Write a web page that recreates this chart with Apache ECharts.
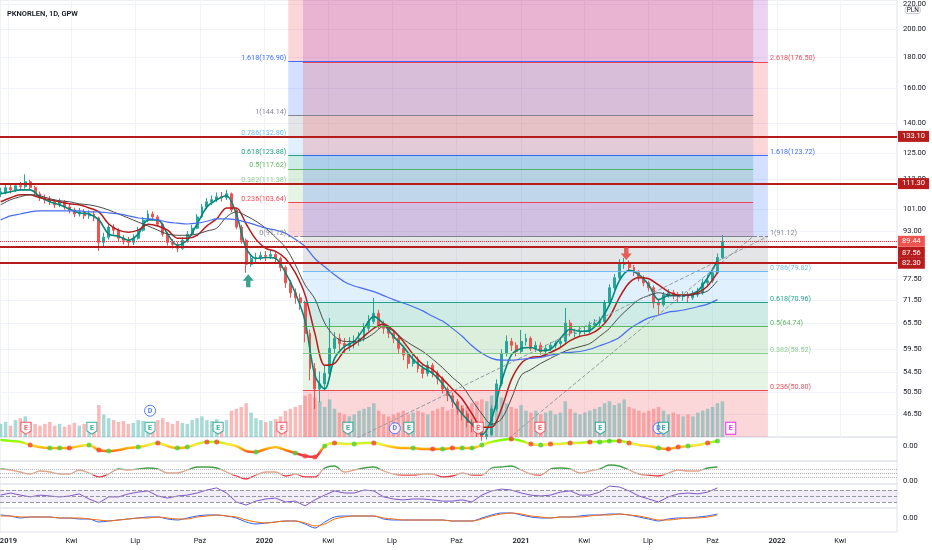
<!DOCTYPE html>
<html>
<head>
<meta charset="utf-8">
<script src="https://cdn.jsdelivr.net/npm/echarts@6/dist/echarts.min.js"></script>
<style>
  html, body { margin: 0; padding: 0; background: #fff; }
  #chart { width: 932px; height: 550px; }
</style>
</head>
<body>
<div id="chart"></div>
<script>
// weekly bars (Fridays), [open, close, low, high]
var firstWeek = '2018-12-21';
var candles = [
  [107.0,107.9,105.8,109.5],[107.9,109.6,106.9,110.8],[109.6,108.7,107.2,111.0],[108.7,110.4,107.8,111.6],
  [110.4,110.0,108.6,112.0],[110.0,112.1,109.2,115.3],[112.1,109.6,108.5,113.0],[109.6,107.1,106.0,110.4],
  [107.1,105.5,104.2,108.0],[105.5,104.7,103.2,106.8],[104.7,103.9,102.6,106.2],[103.9,102.7,101.4,105.0],
  [102.7,103.9,101.8,105.2],[103.9,101.9,100.8,104.6],[101.9,100.7,99.4,103.0],[100.7,99.2,98.0,101.6],
  [99.2,100.0,98.2,101.5],[100.0,98.5,97.3,101.0],[98.5,99.2,97.4,100.6],[99.2,97.7,96.5,100.4],
  [97.7,89.1,86.2,98.2],[89.1,90.8,87.8,92.4],[90.8,94.4,90.0,95.8],[94.4,93.3,91.8,95.4],
  [93.3,90.5,89.4,94.0],[90.5,89.8,88.4,91.6],[89.8,89.1,87.6,91.0],[89.1,90.5,88.2,91.8],
  [90.5,93.3,90.0,94.5],[93.3,96.9,92.8,98.0],[96.9,99.2,96.2,100.6],[99.2,98.1,96.8,100.2],
  [98.1,95.4,94.6,98.8],[95.4,91.9,91.0,96.0],[91.9,89.1,88.0,92.6],[89.1,88.4,87.0,90.2],
  [88.4,87.1,85.8,89.2],[87.1,89.8,86.6,90.8],[89.8,91.9,89.0,93.0],[91.9,94.0,91.2,95.2],
  [94.0,98.1,93.6,99.2],[98.1,101.9,97.6,103.0],[101.9,103.9,101.0,105.4],[103.9,104.7,102.6,106.4],
  [104.7,105.9,103.8,107.6],[105.9,105.5,104.0,107.8],[105.5,107.1,104.6,108.7],[107.1,100.7,99.8,107.6],
  [100.7,94.4,93.6,101.4],[94.4,89.8,88.6,95.2],[89.8,82.0,79.4,90.4],[82.0,83.8,81.2,85.0],
  [83.8,84.1,82.6,85.6],[84.1,84.8,83.2,86.0],[84.8,84.5,83.0,86.2],[84.5,85.1,83.6,86.4],
  [85.1,83.8,82.4,86.0],[83.8,81.0,79.8,84.4],[81.0,76.4,75.0,81.6],[76.4,73.6,72.2,77.2],
  [73.6,72.2,70.6,74.8],[72.2,70.8,69.0,73.4],[70.8,63.1,61.0,71.4],[63.1,55.2,52.8,64.0],
  [55.2,51.1,47.4,56.4],[51.1,52.1,48.6,54.6],[52.1,54.2,50.8,56.0],[54.2,59.6,53.6,66.9],
  [59.6,61.9,58.4,63.4],[61.9,60.7,59.2,63.0],[60.7,60.1,58.6,62.0],[60.1,60.7,59.0,62.2],
  [60.7,61.2,59.6,62.6],[61.2,61.9,60.2,63.4],[61.9,64.3,61.2,65.6],[64.3,66.0,63.6,67.6],
  [66.0,68.1,65.4,72.2],[68.1,65.1,64.2,69.0],[65.1,64.3,63.0,66.2],[64.3,63.1,62.0,65.0],
  [63.1,61.9,60.8,63.8],[61.9,59.6,58.6,62.4],[59.6,58.1,57.0,60.2],[58.1,56.3,55.2,58.8],
  [56.3,57.2,55.6,58.4],[57.2,55.2,54.4,57.8],[55.2,54.2,53.2,56.0],[54.2,55.9,53.6,56.8],
  [55.9,54.2,53.4,56.4],[54.2,53.1,52.0,54.8],[53.1,51.1,50.2,53.6],[51.1,49.8,48.8,51.6],
  [49.8,48.7,47.6,50.4],[48.7,47.4,46.4,49.2],[47.4,46.5,45.4,48.0],[46.5,45.0,44.2,47.0],
  [45.0,44.3,43.4,45.6],[44.3,43.3,42.6,44.8],[43.3,42.7,42.0,43.8],[42.7,43.0,42.2,44.0],
  [43.0,47.4,42.8,48.0],[47.4,52.1,47.0,53.0],[52.1,58.5,51.6,59.4],[58.5,61.2,57.8,62.6],
  [61.2,60.3,59.0,62.0],[60.3,58.9,57.8,61.0],[58.9,61.2,58.4,63.9],[61.2,61.9,60.2,63.0],
  [61.9,59.6,59.0,62.4],[59.6,60.3,58.8,61.2],[60.3,58.9,58.2,61.0],[58.9,59.6,58.2,60.4],
  [59.6,60.3,59.0,61.0],[60.3,60.7,59.6,61.4],[60.7,61.2,60.0,62.0],[61.2,65.6,60.8,69.5],
  [65.6,63.1,62.4,66.4],[63.1,63.1,62.2,64.2],[63.1,63.6,62.4,64.6],[63.6,63.6,62.8,64.8],
  [63.6,65.1,63.0,66.0],[65.1,65.6,64.4,66.6],[65.6,66.0,64.8,67.2],[66.0,70.8,65.6,71.6],
  [70.8,75.0,70.2,76.0],[75.0,77.9,74.4,79.0],[77.9,82.0,77.4,83.6],[82.0,82.0,80.6,84.0],
  [82.0,81.0,79.8,83.2],[81.0,79.4,78.4,81.8],[79.4,77.9,76.8,80.2],[77.9,76.4,75.4,78.6],
  [76.4,75.0,74.0,77.0],[75.0,70.8,69.4,75.6],[70.8,70.3,67.5,71.6],[70.3,73.0,69.8,73.8],
  [73.0,73.6,72.2,74.6],[73.6,73.0,71.8,74.4],[73.0,72.5,71.0,73.8],[72.5,73.0,71.4,74.0],
  [73.0,72.2,70.8,73.8],[72.2,73.0,71.6,74.2],[73.0,73.6,72.4,75.0],[73.6,76.4,73.0,77.6],
  [76.4,77.0,75.2,78.8],[77.0,79.4,76.4,80.6],[79.4,84.1,79.0,85.4],[84.1,89.4,83.6,91.6]
];
var volumes = [
  14,16,12,18,20,22,16,14,12,14,16,12,14,11,13,15,12,14,13,12,
  34,24,20,18,16,17,14,15,18,17,16,14,18,20,16,14,17,15,14,18,
  20,22,18,17,19,16,18,28,30,32,36,26,20,18,16,17,19,22,28,30,
  32,34,44,46,42,38,32,40,30,26,24,22,24,28,30,32,36,28,24,22,
  24,26,28,24,26,28,26,24,28,30,32,28,30,32,34,32,36,38,40,38,
  44,46,42,36,32,30,34,28,26,28,24,26,28,24,26,38,30,26,24,26,
  28,30,32,36,38,34,36,40,32,30,28,26,28,30,32,28,24,26,24,22,
  24,22,26,28,30,32,36,38
];

// moving averages, read every second week
var emaFast = [107.1,107.9,108.7,108.7,105.9,103.9,102.7,101.1,99.6,99.2,
  97.0,91.9,91.2,89.8,91.9,97.0,97.0,91.9,88.1,89.8,
  95.5,101.9,104.7,106.3,99.2,87.1,83.8,84.1,83.8,79.4,
  73.6,66.1,53.8,51.1,57.4,60.0,61.2,64.3,67.3,65.4,
  62.4,60.0,57.2,55.4,54.2,52.1,49.0,46.5,44.7,43.0,
  45.6,52.5,58.1,59.6,59.8,59.1,59.4,61.9,64.1,63.6,
  63.8,66.1,70.3,77.0,80.1,78.8,75.8,71.7,72.8,72.8,
  73.0,74.1,77.9,83.1];
var emaMid = [103.9,105.5,106.7,106.7,105.5,104.7,103.9,103.1,102.7,101.5,
  100.0,95.5,93.3,92.6,93.3,95.4,94.8,93.3,90.5,90.5,
  91.5,94.8,97.4,101.5,101.5,95.5,90.1,87.1,86.1,83.8,
  79.4,73.0,63.1,55.9,56.3,59.1,60.5,62.4,64.3,65.4,
  63.8,61.2,58.3,56.1,55.0,53.1,51.1,49.2,46.5,44.2,
  44.2,47.4,52.9,56.3,57.6,57.8,58.7,59.8,61.4,62.4,
  62.9,64.3,67.1,72.2,76.4,77.9,77.6,75.8,73.9,73.0,
  73.0,73.6,75.5,79.4];
var emaSlow = [102.7,104.7,105.9,106.7,106.3,105.1,104.3,103.9,103.1,102.7,
  101.9,100.7,99.2,97.7,96.2,94.8,93.3,91.9,91.5,91.5,
  91.9,93.0,94.0,98.1,100.0,98.5,96.5,94.0,90.8,87.4,
  81.9,75.8,71.9,65.6,62.4,61.2,61.2,61.7,63.1,64.8,
  63.6,61.7,60.2,58.9,57.2,55.4,53.4,51.7,49.0,46.5,
  44.7,45.6,49.2,53.8,55.0,56.3,57.4,58.5,59.4,60.0,
  60.7,62.4,64.3,67.1,69.5,71.7,72.8,73.6,73.0,72.8,
  72.8,73.3,74.1,77.0];
var sma200 = [97.0,98.5,99.2,100.0,100.4,100.4,100.4,100.4,100.4,100.0,
  100.0,99.6,99.2,98.5,97.7,97.4,97.0,96.2,95.8,95.5,
  95.8,96.5,97.4,97.4,97.0,96.2,95.1,94.0,93.3,92.2,
  90.1,87.7,83.8,81.2,78.8,76.7,75.5,74.7,73.9,72.8,
  71.7,70.8,69.8,68.7,67.3,66.1,64.3,62.4,60.2,58.5,
  57.4,57.0,57.0,57.2,57.4,57.6,58.1,58.5,58.7,58.9,
  59.4,60.2,61.0,62.1,64.1,65.6,66.9,67.6,68.4,68.7,
  69.2,69.8,70.5,71.7];

// lower panes, every second week
var wave = [6,5,4,1,-1,-2,-2,-2,0,1,
  -4,-5,-4,-2,-1,1,3,0,-2,-1,
  2,4,4,2,0,-5,-6,-3,-1,-4,
  -7,-10,-11,0,3,2,2,3,3,1,
  -1,-2,-2,-3,-3,-3,-2,-2,-2,1,
  4,6,7,5,2,1,2,2,3,3,
  4,4,5,5,3,1,0,-2,-3,-1,
  0,1,3,5];
var waveRedDots = [3,7,10,16,21,22,31,32,34,38,44,46,52,54,56,58,60,63,64,68,69,72];
var waveGreenDots = [5,6,9,11,14,18,19,26,30,33,36,42,45,47,48,49,55,61,62,67,70,73];
var trendOsc = [12,11,9,7,10,9,7,7,11,8,
  4,7,12,11,12,13,12,8,8,11,
  14,14,13,9,5,2,6,9,9,5,
  7,4,4,13,15,9,11,13,14,10,
  7,6,6,7,7,4,5,8,6,6,
  13,14,15,11,7,6,12,13,12,8,
  10,12,16,15,11,7,6,5,8,11,
  10,10,13,14];
var trendOscLevels = [12, 8, 4];
var rsi = [53,60,53,47,53,50,47,50,57,40,
  27,47,47,57,63,67,50,43,50,53,
  60,70,77,60,30,20,33,40,43,30,
  33,17,37,53,67,60,60,70,67,47,
  40,37,40,40,37,33,33,37,30,53,
  67,73,70,60,53,50,53,63,67,53,
  53,63,83,80,67,50,40,30,47,57,
  60,57,63,77];
var rsiLevels = [70, 50, 30];
var macd = [3,2,0,1,1,1,0,0,-1,-1,
  -4,-3,-2,-1,0,1,1,-1,-2,0,
  2,3,3,2,0,-4,-6,-5,-4,-3,
  -3,-6,-10,-4,1,2,2,2,2,-1,
  -2,-2,-2,-2,-2,-2,-3,-3,-3,0,
  3,5,5,3,1,0,0,1,1,2,
  3,3,4,4,3,1,-1,-3,-1,0,
  0,1,2,4];
var signal = [2,2,1,1,1,1,0,0,0,-1,
  -2,-3,-2,-1,0,0,1,0,-1,-1,
  1,2,3,2,1,-2,-4,-5,-4,-3,
  -3,-5,-8,-6,-1,1,2,2,2,0,
  -1,-2,-2,-2,-2,-2,-3,-3,-3,-1,
  2,4,5,4,2,1,0,1,1,1,
  2,3,3,4,3,2,0,-2,-2,-1,
  0,0,1,3];

var priceTicks = [220, 200, 180, 160, 140, 125, 113, 101, 93, 77.5, 71.5, 65.5, 59.5, 54.5, 50.5, 46.5, 42];
var quarterTicks = ['2019-01-01','2019-04-01','2019-07-01','2019-10-01','2020-01-01','2020-04-01','2020-07-01',
  '2020-10-01','2021-01-01','2021-04-01','2021-07-01','2021-10-01','2022-01-01','2022-04-01'];
var monthNames = { 3: 'Kwi', 6: 'Lip', 9: 'Paź' };

var keyLevels = [133.10, 111.30, 87.56, 82.30];
var lastPrice = 89.44;

var fibLeftLevels = ['0','0.236','0.382','0.5','0.618','0.786','1','1.618','2.618'];
var fibLeftPrices = [91.12, 103.64, 111.38, 117.62, 123.88, 132.80, 144.14, 176.90, 229.90];
var fibLeftSpan = ['2020-02-04', '2021-11-28'];
var fibRightLevels = ['0','0.236','0.382','0.5','0.618','0.786','1','1.618','2.618','3.618'];
var fibRightPrices = [38.36, 50.80, 58.52, 64.74, 70.96, 79.82, 91.12, 123.72, 176.50, 229.30];
var fibRightSpan = ['2020-02-25', '2021-12-19'];

var trendLineA = [['2020-02-25', 38.36], ['2021-12-19', 91.12]];
var trendLineB = [['2020-11-04', 38.8], ['2021-11-28', 91.12]];

var events = [
  ['2019-01-26','E','miss',0], ['2019-04-30','E','beat',0], ['2019-07-22','E','beat',0], ['2019-07-22','D','div',1],
  ['2019-10-27','E','beat',0], ['2020-01-26','E','miss',0], ['2020-04-29','E','beat',0], ['2020-07-05','D','div',0],
  ['2020-07-25','E','beat',0], ['2020-11-01','E','miss',0], ['2021-01-28','E','miss',0], ['2021-04-24','E','beat',0],
  ['2021-07-16','D','div',0], ['2021-07-23','E','beat',0], ['2021-10-27','E','next',0]
];
var arrows = [['2019-12-09', 77.0, 'up'], ['2021-05-31', 85.4, 'down']];

var FONT = 'Roboto, "Noto Sans", sans-serif';
var UP = '#26a69a', DOWN = '#ef5350';
var fibColor = { '0': '#787b86', '0.236': '#f23645', '0.382': '#81c784', '0.5': '#4caf50', '0.618': '#089981',
  '0.786': '#64b5f6', '1': '#787b86', '1.618': '#2962ff', '2.618': '#f23645', '3.618': '#9c27b0' };
var eventColor = { miss: '#f23645', beat: '#089981', div: '#2962ff', next: '#d500f9' };
var yMin = 42.6, yMax = 223.2;

function ts(s) { return Date.parse(s + 'T00:00:00Z'); }
var xMin = ts('2018-12-20'), xMax = ts('2022-06-21');

function rgba(hex, a) {
  var n = parseInt(hex.slice(1), 16);
  return 'rgba(' + (n >> 16) + ',' + ((n >> 8) & 255) + ',' + (n & 255) + ',' + a + ')';
}

var weeks = [];
for (var i = 0; i < candles.length; i++) weeks.push(ts(firstWeek) + 7 * 86400000 * i);
var halfWeeks = weeks.filter(function (w, i) { return i % 2 === 0; });
function pairs(vals) { return vals.map(function (v, i) { return [halfWeeks[i], v]; }); }

function fibMarks(levels, prices, span, side, dashedLevel) {
  var areas = [], lines = [];
  for (var k = 0; k + 1 < levels.length; k++) {
    areas.push([
      { xAxis: ts(span[0]), yAxis: prices[k], itemStyle: { color: rgba(fibColor[levels[k + 1]], 0.2) } },
      { xAxis: ts(span[1]), yAxis: prices[k + 1] }
    ]);
  }
  for (var k = 0; k < levels.length; k++) {
    if (prices[k] < yMin || prices[k] > yMax) continue;
    var c = fibColor[levels[k]];
    lines.push([
      { xAxis: ts(span[0]), yAxis: prices[k],
        lineStyle: { color: c, width: 1, type: levels[k] === dashedLevel ? 'dashed' : 'solid', opacity: 0.9 },
        label: { show: true, position: side, distance: 2, verticalAlign: 'bottom', color: c,
          fontSize: 7.2, fontFamily: FONT, formatter: levels[k] + '(' + prices[k].toFixed(2) + ')' } },
      { xAxis: ts(span[1]), yAxis: prices[k] }
    ]);
  }
  return { areas: areas, lines: lines };
}
var fibL = fibMarks(fibLeftLevels, fibLeftPrices, fibLeftSpan, 'start', '0');
var fibR = fibMarks(fibRightLevels, fibRightPrices, fibRightSpan, 'end', '1');

// price badges: 87.56 hangs below its line so it does not cover 89.44
function badge(v, bg, vAlign) {
  return { show: true, position: 'end', distance: 1, formatter: v.toFixed(2), color: '#fff',
    backgroundColor: bg, padding: [2, 4, 1, 4], fontSize: 7.5, fontFamily: FONT, verticalAlign: vAlign };
}
var levelLines = keyLevels.map(function (v) {
  return { yAxis: v, lineStyle: { color: '#b71c1c', width: 2, type: 'solid' },
    label: badge(v, '#b71c1c', v === 87.56 ? 'top' : 'middle') };
});
levelLines.push({ yAxis: lastPrice, lineStyle: { color: '#f23645', width: 1, type: 'dotted' },
  label: badge(lastPrice, '#ef5350', 'middle') });

var shield = 'path://M0,0 L10,0 L10,8 L5,11 L0,8 Z';
var eventData = events.map(function (e) {
  var c = eventColor[e[2]];
  return {
    value: [ts(e[0]), e[3]],
    symbol: e[2] === 'div' ? 'circle' : (e[2] === 'next' ? 'rect' : shield),
    symbolSize: e[2] === 'div' ? 11 : [10, 12],
    itemStyle: { color: '#fff', borderColor: c, borderWidth: 1 },
    label: { show: true, position: 'inside', formatter: e[1], color: c, fontSize: 7, fontWeight: 'bold', fontFamily: FONT }
  };
});
var arrowData = arrows.map(function (a) {
  return {
    value: [ts(a[0]), a[1]],
    symbol: a[2] === 'up' ? 'path://M5,0 L10,6 L7,6 L7,12 L3,12 L3,6 L0,6 Z' : 'path://M3,0 L7,0 L7,6 L10,6 L5,12 L0,6 L3,6 Z',
    symbolSize: [11, 13],
    itemStyle: { color: a[2] === 'up' ? '#0b8a70' : '#e53935' }
  };
});

var paneTops = [0, 390, 402, 437, 461, 484, 508];
var paneHeights = [437, 47, 35, 24, 23, 24, 24];
var grids = paneTops.map(function (t, i) {
  var bordered = i === 0 || i >= 3;
  return { left: 0, right: 35, top: t, height: paneHeights[i], show: bordered,
    borderColor: '#e0e3eb', borderWidth: 1, backgroundColor: 'transparent', outerBoundsMode: 'none' };
});

var quarterValues = quarterTicks.map(ts);
var xAxes = grids.map(function (g, i) {
  var last = i === grids.length - 1;
  return {
    type: 'value', gridIndex: i, min: xMin, max: xMax,
    axisLine: { show: false },
    axisTick: { show: false, customValues: quarterValues },
    splitLine: { show: i === 0, lineStyle: { color: '#f0f3fa', width: 1 } },
    axisLabel: {
      show: last, customValues: quarterValues, margin: 5, fontSize: 7.5, fontFamily: FONT, color: '#131722',
      formatter: function (v) {
        var dt = new Date(v);
        return dt.getUTCMonth() === 0 ? '{y|' + dt.getUTCFullYear() + '}' : monthNames[dt.getUTCMonth()];
      },
      rich: { y: { fontSize: 7.5, fontWeight: 600, fontFamily: FONT, color: '#131722' } }
    }
  };
});

var zeroLabel = { customValues: [0], formatter: function (v) { return Number(v).toFixed(2); },
  fontSize: 7.5, fontFamily: FONT, color: '#131722', margin: 6 };
var yAxes = [
  { type: 'log', gridIndex: 0, position: 'right', min: yMin, max: yMax, logBase: 10,
    axisLine: { show: false }, axisTick: { show: false, customValues: priceTicks },
    splitLine: { show: true, lineStyle: { color: '#f0f3fa', width: 1 } },
    axisLabel: { customValues: priceTicks, formatter: function (v) { return Number(v).toFixed(2); },
      fontSize: 7.5, fontFamily: FONT, color: '#131722', margin: 6 } },
  { type: 'value', gridIndex: 1, min: 0, max: 50, show: false },
  { type: 'value', gridIndex: 2, min: -0.5, max: 1.5, show: false },
  { type: 'value', gridIndex: 3, position: 'right', min: -15, max: 9, axisLine: { show: false },
    axisTick: { show: false }, splitLine: { show: false }, axisLabel: zeroLabel },
  { type: 'value', gridIndex: 4, position: 'right', min: -3, max: 20, axisLine: { show: false },
    axisTick: { show: false }, splitLine: { show: false }, axisLabel: zeroLabel },
  { type: 'value', gridIndex: 5, position: 'right', min: 10, max: 90, axisLine: { show: false },
    axisTick: { show: false }, splitLine: { show: false }, axisLabel: { show: false } },
  { type: 'value', gridIndex: 6, position: 'right', min: -14, max: 10, axisLine: { show: false },
    axisTick: { show: false }, splitLine: { show: false }, axisLabel: zeroLabel }
];

function maLine(name, vals, color, width) {
  return { name: name, type: 'line', xAxisIndex: 0, yAxisIndex: 0, data: pairs(vals), smooth: 0.3,
    symbol: 'none', lineStyle: { color: color, width: width }, z: 4 };
}
function dots(idx, color) {
  return { type: 'scatter', xAxisIndex: 3, yAxisIndex: 3, symbolSize: 5, z: 5,
    itemStyle: { color: color },
    data: idx.map(function (j) { return [halfWeeks[j], wave[j]]; }) };
}

var series = [
  { name: 'fib', type: 'line', xAxisIndex: 0, yAxisIndex: 0, data: [], silent: true,
    markArea: { silent: true, data: fibL.areas.concat(fibR.areas) },
    markLine: { silent: true, symbol: 'none', data: fibL.lines.concat(fibR.lines) } },
  { name: 'volume', type: 'bar', xAxisIndex: 1, yAxisIndex: 1, barWidth: 3.5, z: 2,
    data: weeks.map(function (w, i) { return [w, volumes[i]]; }),
    itemStyle: { color: function (p) {
      var c = candles[p.dataIndex];
      return c[1] >= c[0] ? 'rgba(38,166,154,0.4)' : 'rgba(239,83,80,0.4)';
    } } },
  { name: 'PKNORLEN', type: 'candlestick', xAxisIndex: 0, yAxisIndex: 0, barWidth: 2.4, z: 3,
    data: weeks.map(function (w, i) { return [w].concat(candles[i]); }),
    encode: { x: 0, y: [1, 2, 3, 4] },
    itemStyle: { color: UP, color0: DOWN, borderColor: UP, borderColor0: DOWN, borderWidth: 1 },
    markLine: { silent: true, symbol: 'none', data: levelLines } },
  maLine('EMA fast', emaFast, '#00897b', 1.6),
  maLine('EMA mid', emaMid, '#b71c1c', 1.5),
  maLine('EMA slow', emaSlow, '#4a4a4a', 1),
  maLine('SMA 200', sma200, '#4a6cf0', 1.2),
  { type: 'line', xAxisIndex: 0, yAxisIndex: 0, data: trendLineA.map(function (p) { return [ts(p[0]), p[1]]; }),
    symbol: 'none', z: 4, lineStyle: { color: '#9598a1', width: 1, type: 'dashed' } },
  { type: 'line', xAxisIndex: 0, yAxisIndex: 0, data: trendLineB.map(function (p) { return [ts(p[0]), p[1]]; }),
    symbol: 'none', z: 4, lineStyle: { color: '#9598a1', width: 1, type: 'dashed' } },
  { type: 'scatter', xAxisIndex: 0, yAxisIndex: 0, data: arrowData, z: 6 },
  { type: 'scatter', xAxisIndex: 2, yAxisIndex: 2, data: eventData, z: 6 },
  { name: 'wave', type: 'line', xAxisIndex: 3, yAxisIndex: 3, data: pairs(wave), smooth: 0.3, symbol: 'none',
    lineStyle: { width: 2.5 }, z: 3 },
  dots(waveRedDots, '#f44336'),
  dots(waveGreenDots, '#4cd137'),
  { name: 'trend', type: 'line', xAxisIndex: 4, yAxisIndex: 4, data: pairs(trendOsc), smooth: 0.3, symbol: 'none',
    lineStyle: { width: 1.3 },
    markLine: { silent: true, symbol: 'none', label: { show: false },
      lineStyle: { color: '#b2b5be', type: 'dotted', width: 1 },
      data: trendOscLevels.map(function (v) { return { yAxis: v }; }) } },
  { name: 'RSI', type: 'line', xAxisIndex: 5, yAxisIndex: 5, data: pairs(rsi), symbol: 'none',
    lineStyle: { color: '#7e57c2', width: 1 },
    markArea: { silent: true, itemStyle: { color: 'rgba(126,87,194,0.1)' },
      data: [[{ yAxis: rsiLevels[2] }, { yAxis: rsiLevels[0] }]] },
    markLine: { silent: true, symbol: 'none', label: { show: false },
      lineStyle: { color: '#9598a1', type: 'dashed', width: 1 },
      data: rsiLevels.map(function (v) { return { yAxis: v }; }) } },
  { name: 'MACD', type: 'line', xAxisIndex: 6, yAxisIndex: 6, data: pairs(macd), smooth: 0.3, symbol: 'none',
    lineStyle: { color: '#2962ff', width: 1 } },
  { name: 'Signal', type: 'line', xAxisIndex: 6, yAxisIndex: 6, data: pairs(signal), smooth: 0.3, symbol: 'none',
    lineStyle: { color: '#ff6d00', width: 1 } }
];

var chart = echarts.init(document.getElementById('chart'));
chart.setOption({
  animation: false,
  backgroundColor: '#ffffff',
  title: [
    { text: 'PKNORLEN, 1D, GPW', left: 2, top: 5,
      textStyle: { fontSize: 7.5, fontWeight: 600, color: '#131722', fontFamily: FONT } },
    { text: 'PLN', right: 11, top: 6, padding: [1, 2, 0, 2], borderColor: '#c9cbd1', borderWidth: 1, borderRadius: 2,
      backgroundColor: '#fff', textStyle: { fontSize: 6.5, fontWeight: 'normal', color: '#131722', fontFamily: FONT } }
  ],
  grid: grids,
  xAxis: xAxes,
  yAxis: yAxes,
  visualMap: [
    { show: false, type: 'continuous', seriesIndex: 11, dimension: 1, min: -8, max: 6,
      inRange: { color: ['#f23645', '#ff9800', '#ffeb3b', '#76ff03'] } },
    { show: false, type: 'piecewise', seriesIndex: 14, dimension: 1,
      pieces: [{ lt: 6.5, color: '#f23645' }, { gte: 6.5, lte: 12.5, color: '#e0a588' }, { gt: 12.5, color: '#43a047' }] }
  ],
  series: series
});
</script>
</body>
</html>
